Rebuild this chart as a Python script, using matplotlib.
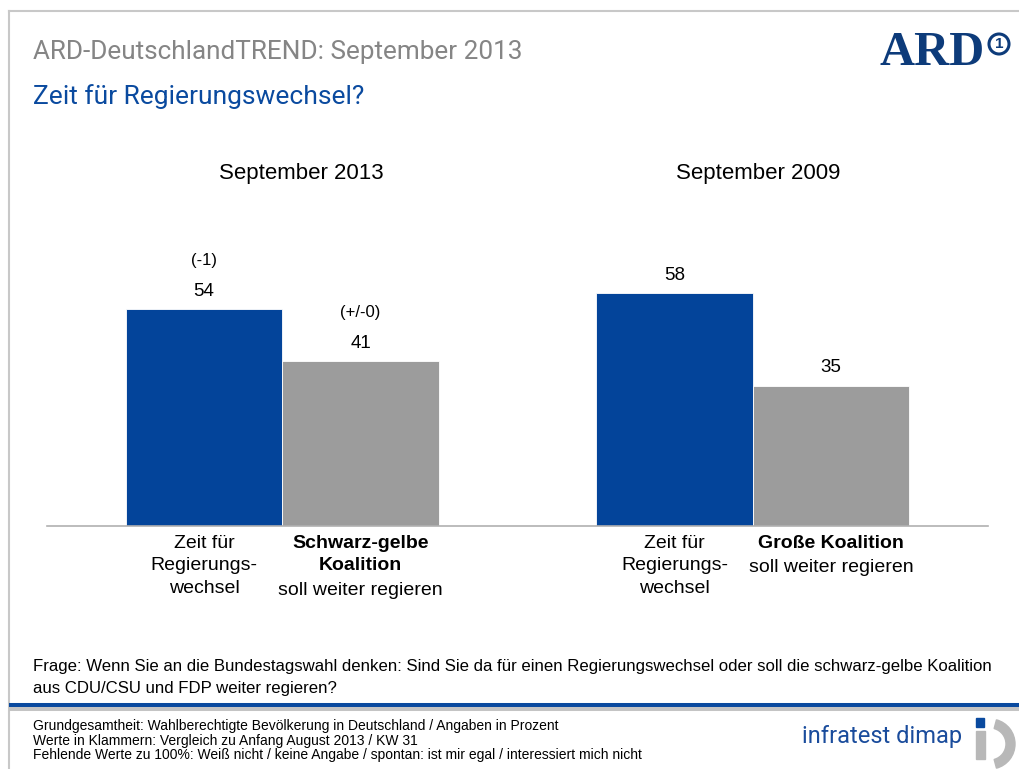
import numpy as np
import matplotlib.pyplot as plt
from matplotlib.patches import Rectangle, Circle, Wedge

# data
groups = ["September 2013", "September 2009"]
values_change = [54, 58]      # Zeit für Regierungswechsel
values_keep = [41, 35]        # Regierung soll weiter regieren
deltas_change = ["(-1)", ""]
deltas_keep = ["(+/-0)", ""]
label_change = ["Zeit für", "Regierungs-", "wechsel"]
labels_keep_bold = [["Schwarz-gelbe", "Koalition"], ["Große Koalition"]]
label_keep_normal = "soll weiter regieren"

title = "ARD-DeutschlandTREND: September 2013"
subtitle = "Zeit für Regierungswechsel?"
question = ["Frage: Wenn Sie an die Bundestagswahl denken: Sind Sie da für einen Regierungswechsel oder soll die schwarz-gelbe Koalition",
            "aus CDU/CSU und FDP weiter regieren?"]
notes = ["Grundgesamtheit: Wahlberechtigte Bevölkerung in Deutschland / Angaben in Prozent",
         "Werte in Klammern: Vergleich zu Anfang August 2013 / KW 31",
         "Fehlende Werte zu 100%: Weiß nicht / keine Angabe / spontan: ist mir egal / interessiert mich nicht"]

BLUE = "#03449a"
GREY = "#9c9c9c"
ARIAL = "Liberation Sans"
NARROW = ["Roboto", "DejaVu Sans"]

W, H = 1019, 769
fig = plt.figure(figsize=(W / 100, H / 100), dpi=100)

# decoration layer in pixel coordinates
deco = fig.add_axes([0, 0, 1, 1])
deco.set_xlim(0, W)
deco.set_ylim(H, 0)
deco.axis("off")

deco.plot([9, W], [11, 11], color="#c8c8c8", lw=1.5)
deco.plot([9, 9], [11, H], color="#c8c8c8", lw=1.5)
deco.plot([9, W], [704.5, 704.5], color="#0a4a9f", lw=2.9, solid_capstyle="butt")
deco.plot([9, W], [708.5, 708.5], color="#c4c4c4", lw=2.9, solid_capstyle="butt")

deco.text(33, 52, title, family=NARROW, fontsize=18.8, color="#858585", va="center")
deco.text(33, 97, subtitle, family=NARROW, fontsize=19, color="#0a4a9f", va="center")

# ARD logo
deco.text(880, 53, "ARD", family="Liberation Serif", weight="bold", fontsize=35,
          color="#0d3b7a", va="center", ha="left")
deco.add_patch(Circle((999, 44), 10, fill=False, ec="#0d3b7a", lw=2.2))
deco.text(999, 44.5, "1", family=ARIAL, weight="bold", fontsize=11, color="#0d3b7a",
          ha="center", va="center")

deco.text(301, 173, groups[0], family=ARIAL, fontsize=16, ha="center", va="center")
deco.text(758, 173, groups[1], family=ARIAL, fontsize=16, ha="center", va="center")

deco.text(33, 666, question[0], family=ARIAL, fontsize=12.1, va="center")
deco.text(33, 688, question[1], family=ARIAL, fontsize=12.1, va="center")
for i, line in enumerate(notes):
    deco.text(33, 726 + 14.5 * i, line, family=ARIAL, fontsize=10.0, va="center")

# infratest dimap logo
deco.text(962, 737, "infratest dimap", family=NARROW, fontsize=17, color="#1a4c9c",
          ha="right", va="center")
deco.add_patch(Rectangle((976, 718), 8, 9, color="#0a4a9f"))
deco.add_patch(Rectangle((976, 731), 9, 28, color="#b8b8b8"))
deco.add_patch(Wedge((990, 744), 25, -75, 75, width=9, color="#b8b8b8"))

# bar chart
ax = fig.add_axes([47 / W, (H - 526) / H, (988 - 47) / W, 281 / H])
x = np.arange(len(groups))
bw = 0.333
b1 = ax.bar(x - bw / 2, values_change, bw, color=BLUE, edgecolor="white", linewidth=0.6)
b2 = ax.bar(x + bw / 2, values_keep, bw, color=GREY, edgecolor="white", linewidth=0.6)
ax.set_xlim(-0.5, 1.5)
ax.set_ylim(0, 70)
for s in ["top", "right", "left"]:
    ax.spines[s].set_visible(False)
ax.spines["bottom"].set_color("#b0b0b0")
ax.spines["bottom"].set_linewidth(1.2)
ax.set_xticks([])
ax.set_yticks([])

for bars, deltas in [(b1, deltas_change), (b2, deltas_keep)]:
    for rect, d in zip(bars, deltas):
        cx = rect.get_x() + rect.get_width() / 2
        top = rect.get_height()
        ax.annotate(f"{top:.0f}", (cx, top), xytext=(0, 13), textcoords="offset points",
                    ha="center", va="center", family=ARIAL, fontsize=13.5)
        if d:
            ax.annotate(d, (cx, top), xytext=(0, 35), textcoords="offset points",
                        ha="center", va="center", family=ARIAL, fontsize=12)

# category labels under the bars
for i in range(len(groups)):
    for j, line in enumerate(label_change):
        ax.annotate(line, (x[i] - bw / 2, 0), xytext=(0, -12.3 - 16.2 * j),
                    textcoords="offset points", ha="center", va="center",
                    family=ARIAL, fontsize=14)
    bold = labels_keep_bold[i]
    for j, line in enumerate(bold):
        ax.annotate(line, (x[i] + bw / 2, 0), xytext=(0, -12.3 - 16.2 * j),
                    textcoords="offset points", ha="center", va="center",
                    family=ARIAL, fontsize=14, weight="bold")
    ax.annotate(label_keep_normal, (x[i] + bw / 2, 0),
                xytext=(0, -12.3 - 16.2 * len(bold) - 1.5),
                textcoords="offset points", ha="center", va="center",
                family=ARIAL, fontsize=14)

fig.savefig("out.png", dpi=100)
